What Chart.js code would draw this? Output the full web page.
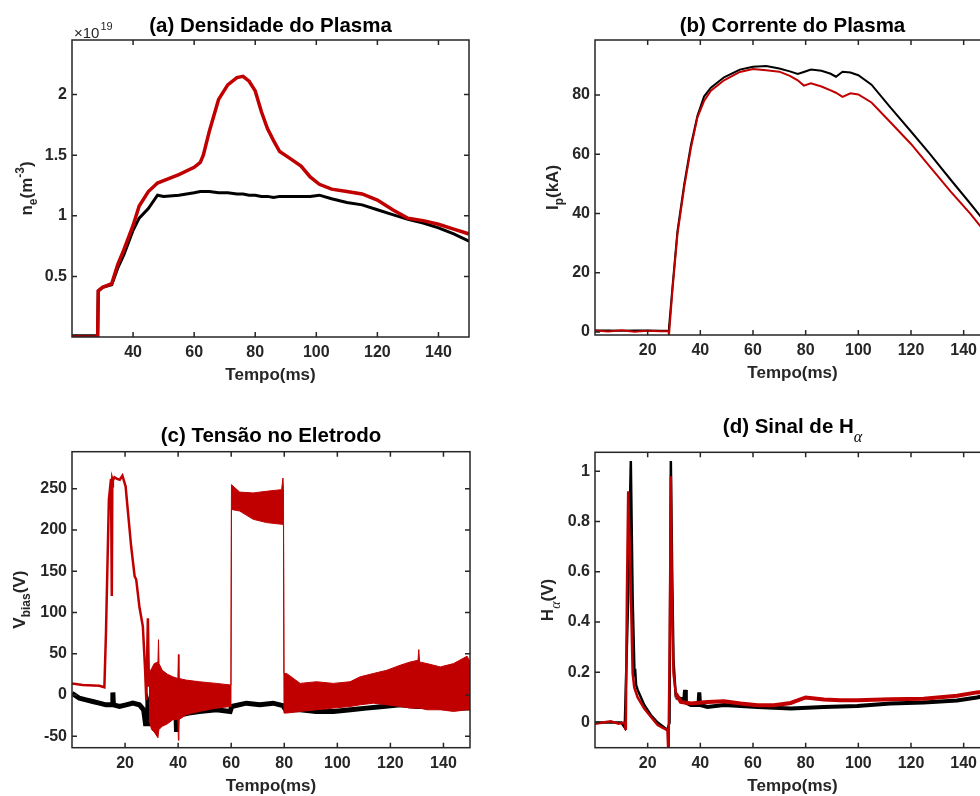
<!DOCTYPE html>
<html>
<head>
<meta charset="utf-8">
<script src="https://cdn.jsdelivr.net/npm/chart.js@4.4.0/dist/chart.umd.min.js"></script>
<style>
  html, body { margin: 0; padding: 0; background: #fff; overflow: hidden; }
  body { width: 980px; height: 796px; position: relative; }
  canvas { position: absolute; }
</style>
</head>
<body>
<canvas id="graficoA" width="490" height="398" style="left:0;top:0"></canvas>
<canvas id="graficoB" width="520" height="398" style="left:490px;top:0"></canvas>
<canvas id="graficoC" width="490" height="398" style="left:0;top:398px"></canvas>
<canvas id="graficoD" width="520" height="398" style="left:490px;top:398px"></canvas>
<script>
// (a) densidade do plasma, x10^19 m^-3
const tempoA = [20, 28.4, 28.6, 30, 33, 35, 37, 40, 42, 45, 48, 50, 55, 60, 62, 63, 65, 68, 71, 74, 76, 78, 80, 82, 84, 86, 88, 91, 95, 98, 101, 105, 110, 115, 120, 125, 130, 135, 140, 145, 150];
const densidadeVermelho = [0, 0, 0.38, 0.41, 0.44, 0.6, 0.72, 0.92, 1.08, 1.2, 1.27, 1.29, 1.34, 1.40, 1.44, 1.50, 1.70, 1.96, 2.08, 2.14, 2.15, 2.11, 2.03, 1.86, 1.72, 1.62, 1.53, 1.48, 1.41, 1.32, 1.26, 1.22, 1.20, 1.18, 1.13, 1.05, 0.98, 0.96, 0.93, 0.89, 0.85];
const densidadePreto = [0.01, 0.01, 0.38, 0.41, 0.43, 0.57, 0.68, 0.88, 0.98, 1.06, 1.17, 1.16, 1.17, 1.19, 1.2, 1.2, 1.2, 1.19, 1.19, 1.18, 1.18, 1.17, 1.17, 1.16, 1.16, 1.15, 1.16, 1.16, 1.16, 1.16, 1.17, 1.14, 1.11, 1.09, 1.05, 1.01, 0.97, 0.94, 0.90, 0.85, 0.79];
const ticksXA = [40, 60, 80, 100, 120, 140];
const ticksYA = [0.5, 1, 1.5, 2];

// (b) corrente do plasma, kA
const tempoB = [0, 5, 10, 15, 20, 25, 27.9, 28.1, 29.4, 31.3, 33.9, 36.4, 38.9, 41.4, 44, 49, 55, 60, 65, 70, 74, 77, 79.3, 82, 86, 89.5, 91.5, 94, 97, 100, 105, 112, 120, 127, 135, 142.5, 147, 150];
const correnteVermelho = [0.5, 0.2, 0.6, 0.1, 0.4, 0.3, 0.3, -1, 14, 33, 49, 62, 72.5, 78, 81.5, 85, 87.8, 88.8, 88.4, 87.9, 86.5, 85, 83.2, 84, 82.9, 81.6, 80.8, 79.4, 80.6, 80.2, 77.5, 71, 63.5, 56, 47.5, 40, 35, 32];
const correntePreto = [0.5, 0.5, 0.4, 0.5, 0.5, 0.4, 0.5, 1.5, 15, 34, 50, 63, 73, 79.5, 82.5, 86, 88.6, 89.6, 89.8, 89, 88, 87.1, 87.8, 88.6, 88.2, 87.2, 86.2, 87.9, 87.6, 86.7, 83.5, 76, 67.7, 60.3, 51.5, 43.4, 38.4, 35];
const ticksXB = [20, 40, 60, 80, 100, 120, 140];
const ticksYB = [0, 20, 40, 60, 80];

// (c) tensao no eletrodo, V
const tempoVbiasInicio = [0, 4, 10.3, 12.2, 12.8, 13.9, 14.7, 15.0, 15.2, 15.4, 16, 17, 18, 19, 20.2, 21, 22.3, 23.6, 24.2, 25.4, 26.7, 27.5, 28, 28.6, 29];
const vbiasInicio = [14, 12, 11, 9.3, 75, 237, 262, 120, 262, 260, 264, 262, 261, 266, 253, 225, 180, 144, 140, 107, 83, 34, -6, 93, 10];
const tempoBanda = [29, 30, 31, 32.4, 32.6, 32.8, 34, 36, 38, 39.9, 40.1, 40.3, 43, 48, 54.4, 59.9, 60.1, 63.2, 68.3, 73.3, 79, 79.5, 79.7, 79.9, 80.9, 86, 92.2, 98.5, 104.8, 108.6, 113.6, 118.7, 123.7, 127.5, 130.4, 130.7, 131, 133.8, 138.8, 143.8, 148.9, 150];
const bandaSuperior = [26, 32, 38, 40, 67, 38, 30, 25, 22, 20, 49, 20, 18, 16, 14, 12, 255, 246, 245, 247, 249, 263, 250, 26, 26, 14, 16, 14, 16, 22, 26, 30, 36, 40, 42, 55, 40, 38, 34, 38, 47, 40];
const bandaInferior = [-30, -42, -45, -52, -45, -42, -38, -35, -30, -30, -55, -30, -24, -20, -16, -14, 225, 223, 213, 209, 207, 207, 205, -22, -22, -20, -18, -16, -14, -12, -10, -12, -14, -16, -16, -16, -16, -18, -18, -20, -18, -18];
const tempoVbiasPreto = [0, 2.8, 5.3, 7.8, 10.3, 12.8, 15.2, 15.4, 15.6, 17.9, 20.4, 22.9, 25.4, 27, 27.7, 28.3, 28.6, 30, 35, 39.2, 39.4, 39.6, 44, 48, 54.4, 59.6, 60.2, 65.7, 70.8, 75.8, 79.5, 80.5, 86, 92, 98.5, 105, 111, 117.3, 123.7, 130, 136.4, 142.8, 150];
const vbiasPreto = [2, -4, -6, -8, -10, -12, -12, 3, -12, -14, -12, -10, -12, -18, -35, -35, -10, -25, -25, -25, -45, -25, -22, -20, -18, -20, -14, -10, -12, -10, -13, -18, -18, -20, -20, -18, -16, -14, -12, -14, -14, -16, -16];
const ticksXC = [20, 40, 60, 80, 100, 120, 140];
const ticksYC = [-50, 0, 50, 100, 150, 200, 250];

// (d) sinal de H-alfa, V
const tempoHaVermelho = [0, 3, 6, 9, 11.2, 11.7, 12.1, 12.6, 13.4, 14.3, 14.9, 16.2, 18.7, 21.2, 23.8, 26.3, 27.5, 27.8, 28.0, 28.4, 28.8, 29.2, 29.8, 30.7, 32.6, 36.4, 42.7, 49, 55.3, 61.7, 68, 74.3, 80, 86.9, 93.2, 99.6, 112.2, 124.8, 137.5, 145, 150];
const haVermelho = [-0.005, 0.0, 0.005, -0.005, 0.0, -0.03, 0.49, 0.92, 0.62, 0.195, 0.14, 0.10, 0.056, 0.023, -0.01, -0.024, -0.03, -0.11, -0.03, 0.35, 0.98, 0.49, 0.195, 0.115, 0.082, 0.076, 0.082, 0.085, 0.076, 0.069, 0.069, 0.078, 0.10, 0.092, 0.089, 0.089, 0.093, 0.095, 0.107, 0.12, 0.125];
const tempoHaPreto = [0, 5, 10, 11.3, 12.6, 13.6, 14.3, 15.0, 15.3, 15.6, 16.2, 18.7, 21.2, 23.8, 26.3, 27.5, 28.3, 28.8, 29.3, 29.8, 30.7, 33.9, 34.2, 34.5, 36.4, 39.3, 39.6, 39.9, 42.7, 49, 61.7, 74.3, 86.9, 99.6, 112.2, 124.8, 137.5, 145, 150];
const haPreto = [0.0, 0.0, 0.0, -0.02, 0.5, 1.04, 0.49, 0.195, 0.2, 0.15, 0.13, 0.07, 0.03, 0.0, -0.02, -0.03, 0.0, 1.04, 0.6, 0.25, 0.1, 0.09, 0.13, 0.08, 0.07, 0.07, 0.12, 0.07, 0.062, 0.07, 0.062, 0.056, 0.062, 0.066, 0.076, 0.08, 0.088, 0.1, 0.11];
const ticksXD = [20, 40, 60, 80, 100, 120, 140];
const ticksYD = [0, 0.2, 0.4, 0.6, 0.8, 1];

const VERMELHO = "#c00000";
const PRETO = "#000000";
const CINZA = "#262626";
const FONTE = "'Liberation Sans', Arial, Helvetica, sans-serif";

function pontos(t, v) {
    return t.map((x, i) => ({ x: x, y: v[i] }));
}

function linha(t, v, cor, largura) {
    return {
        data: pontos(t, v),
        borderColor: cor,
        backgroundColor: cor,
        borderWidth: largura,
        pointRadius: 0,
        tension: 0,
        fill: false,
        clip: 0
    };
}

// texto com subscrito/sobrescrito, partes = [[texto, tipo]]
function textoRico(ctx, partes, cx, y, tam) {
    const fontes = {
        n: `bold ${tam}px ${FONTE}`,
        sub: `bold ${Math.round(tam * 0.7)}px ${FONTE}`,
        sup: `bold ${Math.round(tam * 0.7)}px ${FONTE}`,
        alfa: `italic ${Math.round(tam * 0.8)}px 'Liberation Serif', serif`
    };
    const desloc = { n: 0, sub: tam * 0.32, sup: -tam * 0.45, alfa: tam * 0.4 };
    let total = 0;
    partes.forEach(p => { ctx.font = fontes[p[1]]; total += ctx.measureText(p[0]).width; });
    let x = cx - total / 2;
    ctx.textAlign = "left";
    ctx.textBaseline = "alphabetic";
    partes.forEach(p => {
        ctx.font = fontes[p[1]];
        ctx.fillText(p[0], x, y + desloc[p[1]]);
        x += ctx.measureText(p[0]).width;
    });
}

const moldura = {
    id: "moldura",
    afterDraw(chart, args, op) {
        const { ctx, chartArea: a, scales } = chart;
        ctx.save();
        ctx.strokeStyle = CINZA;
        ctx.lineWidth = 1.5;
        ctx.beginPath();
        scales.x.ticks.forEach(t => {
            const px = scales.x.getPixelForValue(t.value);
            ctx.moveTo(px, a.bottom); ctx.lineTo(px, a.bottom - 5);
            ctx.moveTo(px, a.top); ctx.lineTo(px, a.top + 5);
        });
        scales.y.ticks.forEach(t => {
            const py = scales.y.getPixelForValue(t.value);
            ctx.moveTo(a.left, py); ctx.lineTo(a.left + 5, py);
            ctx.moveTo(a.right, py); ctx.lineTo(a.right - 5, py);
        });
        ctx.stroke();
        ctx.strokeRect(a.left, a.top, a.right - a.left, a.bottom - a.top);

        const cx = (a.left + a.right) / 2;
        ctx.fillStyle = "#000";
        textoRico(ctx, op.titulo, cx, a.top - op.distTitulo, 20.5);

        ctx.fillStyle = CINZA;
        textoRico(ctx, [["Tempo(ms)", "n"]], cx, a.bottom + 43, 17);

        ctx.save();
        ctx.translate(a.left - op.distY, (a.top + a.bottom) / 2);
        ctx.rotate(-Math.PI / 2);
        textoRico(ctx, op.rotuloY, 0, 0, 17);
        ctx.restore();

        if (op.expoente) {
            ctx.textAlign = "left";
            ctx.textBaseline = "alphabetic";
            ctx.font = `15px ${FONTE}`;
            ctx.fillText("\u00d710", a.left + 2, a.top - 2);
            const w = ctx.measureText("\u00d710").width;
            ctx.font = `11px ${FONTE}`;
            ctx.fillText("19", a.left + 3 + w, a.top - 10);
        }
        ctx.restore();
    }
};

function eixos(xMin, xMax, yMin, yMax, ticksX, ticksY) {
    const fonteTicks = { family: FONTE, size: 16, weight: "bold" };
    return {
        x: {
            type: "linear", min: xMin, max: xMax,
            afterBuildTicks: s => { s.ticks = ticksX.map(v => ({ value: v })); },
            afterFit: s => { s.height = 40; },
            grid: { display: false, drawTicks: false },
            border: { display: false },
            ticks: { font: fonteTicks, color: CINZA, padding: 6, autoSkip: false, maxRotation: 0, callback: v => String(v) }
        },
        y: {
            type: "linear", min: yMin, max: yMax,
            afterBuildTicks: s => { s.ticks = ticksY.map(v => ({ value: v })); },
            afterFit: s => { s.width = 60; },
            grid: { display: false, drawTicks: false },
            border: { display: false },
            ticks: { font: fonteTicks, color: CINZA, padding: 5, autoSkip: false, callback: v => String(v) }
        }
    };
}

function criarGrafico(id, datasets, escalas, padding, op) {
    new Chart(document.getElementById(id).getContext("2d"), {
        type: "line",
        data: { datasets },
        options: {
            responsive: false,
            animation: false,
            layout: { padding },
            scales: escalas,
            plugins: { legend: { display: false }, tooltip: { enabled: false }, moldura: op }
        },
        plugins: [moldura]
    });
}

criarGrafico("graficoA",
    [linha(tempoA, densidadeVermelho, VERMELHO, 3.5), linha(tempoA, densidadePreto, PRETO, 3)],
    eixos(20, 150, 0, 2.45, ticksXA, ticksYA),
    { left: 12, right: 21, top: 40, bottom: 21 },
    { titulo: [["(a) Densidade do Plasma", "n"]], distTitulo: 8, distY: 40, expoente: true,
      rotuloY: [["n", "n"], ["e", "sub"], ["(m", "n"], ["-3", "sup"], [")", "n"]] });

criarGrafico("graficoB",
    [linha(tempoB, correnteVermelho, VERMELHO, 2), linha(tempoB, correntePreto, PRETO, 2)],
    eixos(0, 150, -1, 98.6, ticksXB, ticksYB),
    { left: 45, right: 20, top: 40, bottom: 23 },
    { titulo: [["(b) Corrente do Plasma", "n"]], distTitulo: 8, distY: 37,
      rotuloY: [["I", "n"], ["p", "sub"], ["(kA)", "n"]] });

const bandaSup = linha(tempoBanda, bandaSuperior, VERMELHO, 1);
bandaSup.fill = "+1";
criarGrafico("graficoC",
    [bandaSup, linha(tempoBanda, bandaInferior, VERMELHO, 1),
     linha(tempoVbiasInicio, vbiasInicio, VERMELHO, 2.5),
     linha(tempoVbiasPreto, vbiasPreto, PRETO, 5)],
    eixos(0, 150, -64, 295, ticksXC, ticksYC),
    { left: 12, right: 20, top: 53.7, bottom: 8.3 },
    { titulo: [["(c) Tensão no Eletrodo", "n"]], distTitulo: 10, distY: 47,
      rotuloY: [["V", "n"], ["bias", "sub"], ["(V)", "n"]] });

// ruido mais grosso depois do segundo pico
const haV = linha(tempoHaVermelho, haVermelho, VERMELHO, 2.5);
const haP = linha(tempoHaPreto, haPreto, PRETO, 2.5);
haV.segment = { borderWidth: c => c.p0.parsed.x > 30 ? 4 : 2.5 };
haP.segment = { borderWidth: c => c.p0.parsed.x > 30 ? 4 : 2.5 };
criarGrafico("graficoD",
    [haV, haP],
    eixos(0, 150, -0.1, 1.075, ticksXD, ticksYD),
    { left: 45, right: 20, top: 54.3, bottom: 8.3 },
    { titulo: [["(d) Sinal de H", "n"], ["α", "alfa"]], distTitulo: 19, distY: 42,
      rotuloY: [["H", "n"], ["α", "alfa"], ["(V)", "n"]] });
</script>
</body>
</html>
